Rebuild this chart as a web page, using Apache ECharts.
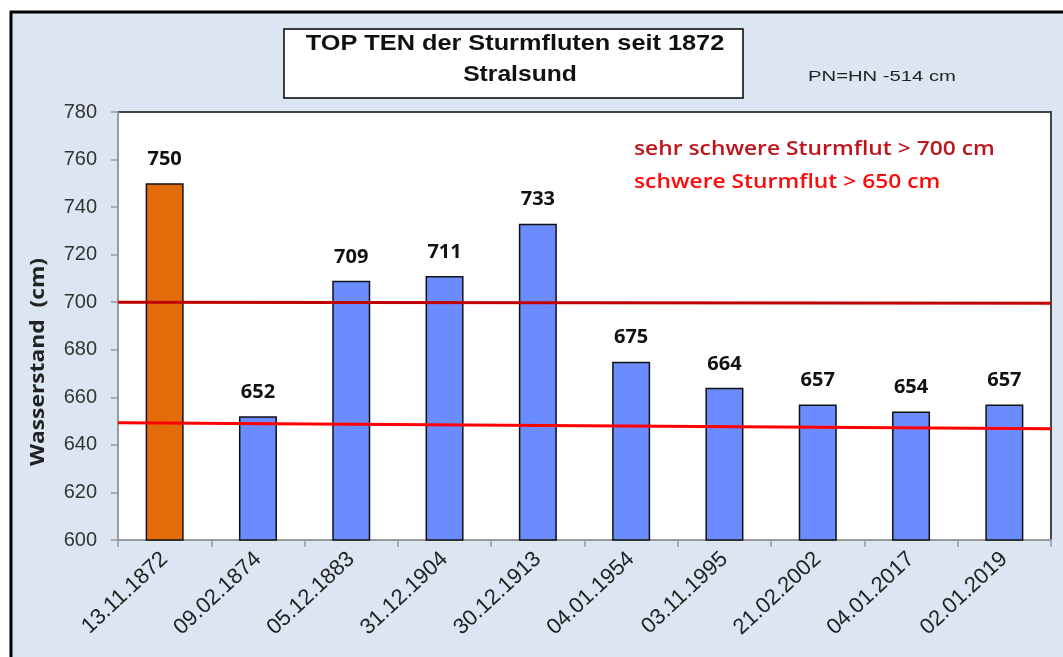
<!DOCTYPE html>
<html>
<head>
<meta charset="utf-8">
<script src="https://cdn.jsdelivr.net/npm/echarts@6/dist/echarts.min.js"></script>
<style>
html,body{margin:0;padding:0;background:#fff;}
#c{width:1063px;height:657px;}
</style>
</head>
<body>
<div id="c"></div>
<script>
const categories = ['13.11.1872','09.02.1874','05.12.1883','31.12.1904','30.12.1913','04.01.1954','03.11.1995','21.02.2002','04.01.2017','02.01.2019'];
const waterLevels = [750, 652, 709, 711, 733, 675, 664, 657, 654, 657];
const veryHeavyLine = [[0, 700], [1, 699.6]];
const heavyLine = [[0, 649.3], [1, 646.8]];
const yTicks = {min: 600, max: 780, interval: 20};

const chart = echarts.init(document.getElementById('c'), null, {renderer: 'canvas'});
const barColors = waterLevels.map((v, i) => i === 0 ? '#e36c0a' : '#6a8cff');

chart.setOption({
  animation: false,
  backgroundColor: 'transparent',
  graphic: [
    {type: 'rect', z: -10, shape: {x: 11, y: 12, width: 1070, height: 660},
     style: {fill: '#dce6f2', stroke: '#000', lineWidth: 3}},
    {type: 'rect', z: 10, shape: {x: 284, y: 29, width: 459, height: 69},
     style: {fill: '#fff', stroke: '#000', lineWidth: 1.5}},
    {type: 'text', z: 11, x: 515, y: 33, scaleX: 1.15,
     style: {text: 'TOP TEN der Sturmfluten seit 1872', textAlign: 'center', textVerticalAlign: 'top',
       font: 'bold 22px "Liberation Sans"', fill: '#111'}},
    {type: 'text', z: 11, x: 520, y: 64, scaleX: 1.12,
     style: {text: 'Stralsund', textAlign: 'center', textVerticalAlign: 'top',
       font: 'bold 22px "Liberation Sans"', fill: '#111'}},
    {type: 'text', z: 11, x: 808, y: 69, scaleX: 1.35,
     style: {text: 'PN=HN -514 cm', textVerticalAlign: 'top', font: '15px "Liberation Sans"', fill: '#222'}},
    {type: 'text', z: 11, x: 634, y: 150, scaleX: 1.2,
     style: {text: 'sehr schwere Sturmflut > 700 cm', textVerticalAlign: 'middle', font: '600 19px "Open Sans"', fill: '#c0141c'}},
    {type: 'text', z: 11, x: 634, y: 183, scaleX: 1.2,
     style: {text: 'schwere Sturmflut > 650 cm', textVerticalAlign: 'middle', font: '600 19px "Open Sans"', fill: '#ff0a0a'}},
    {type: 'text', z: 11, x: 39, y: 362, rotation: Math.PI / 2, scaleX: 1.2,
     style: {text: 'Wasserstand  (cm)', textAlign: 'center', textVerticalAlign: 'middle',
       font: 'bold 19px "Open Sans"', fill: '#222'}}
  ],
  grid: {left: 118, right: 12, top: 112, bottom: 117, show: true,
         backgroundColor: '#fff', borderColor: '#444', borderWidth: 2},
  xAxis: [{
    type: 'category', data: categories,
    axisLine: {lineStyle: {color: '#999', width: 2}},
    axisTick: {show: true, length: 7, lineStyle: {color: '#999', width: 1.5}},
    axisLabel: {rotate: 43, fontSize: 22, fontFamily: 'Liberation Sans', color: '#222', margin: 16, interval: 0}
  }, {
    type: 'value', min: 0, max: 1, show: false
  }],
  yAxis: {
    type: 'value', min: yTicks.min, max: yTicks.max, interval: yTicks.interval,
    splitLine: {show: false},
    axisLine: {show: true, lineStyle: {color: '#999', width: 2}},
    axisTick: {show: true, length: 7, lineStyle: {color: '#999', width: 1.5}},
    axisLabel: {fontSize: 20, fontFamily: 'Liberation Sans', color: '#333', margin: 21}
  },
  series: [
    {
      type: 'bar', xAxisIndex: 0, barWidth: 38,
      data: waterLevels.map((v, i) => ({value: v, itemStyle: {color: barColors[i]}})),
      itemStyle: {borderColor: '#111', borderWidth: 1.5},
      label: {show: true, position: 'top', distance: 14, fontSize: 20, fontWeight: 'bold',
              fontFamily: 'Open Sans', color: '#111'},
      z: 2
    },
    {
      type: 'line', xAxisIndex: 1, data: veryHeavyLine, symbol: 'none',
      lineStyle: {color: '#c00000', width: 3}, z: 5
    },
    {
      type: 'line', xAxisIndex: 1, data: heavyLine, symbol: 'none',
      lineStyle: {color: '#ff0000', width: 3}, z: 5
    }
  ]
});
</script>
</body>
</html>
